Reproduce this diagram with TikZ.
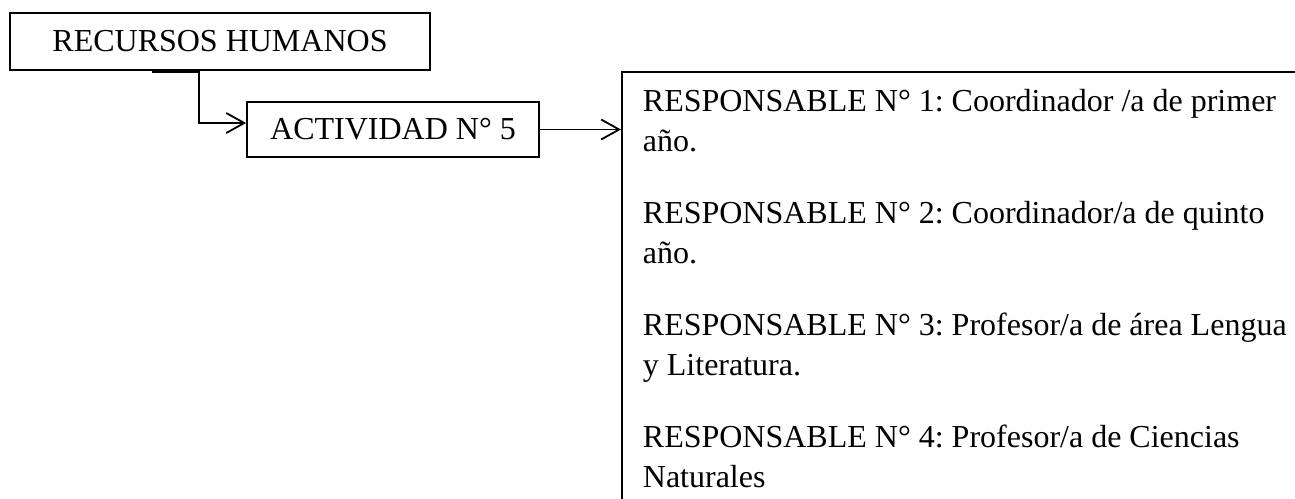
\documentclass[tikz,border=0pt]{standalone}
\usepackage{fontspec}
\setmainfont{Liberation Serif}
\usetikzlibrary{arrows.meta}
\tikzstyle{block} = [rectangle, draw, line width=0.9pt, inner sep=0pt,
    font=\fontsize{16}{20}\selectfont]
\tikzstyle{list} = [rectangle, draw, line width=0.9pt, text width=340pt,
    align=flush left, inner xsep=10.5pt, inner ysep=8.5pt,
    font=\fontsize{16}{20}\selectfont\frenchspacing]
\tikzstyle{line} = [draw, line width=0.9pt,
    -{Straight Barb[length=9pt,width=10pt]}]

\begin{document}
\begin{tikzpicture}[x=0.5pt, y=-0.5pt]
        \useasboundingbox (0,0) rectangle (1295,498);
        \clip (0,0) rectangle (1295,498);
        % Place nodes
        \node [block, minimum width=210pt, minimum height=28.5pt] (recu) at (220,41.5) {RECURSOS HUMANOS};
        \node [block, minimum width=146pt, minimum height=27.5pt] (acti) at (393,129.5) {ACTIVIDAD N° 5};

        % responsables (box runs past the page edge)
        \node [list, anchor=north west] (resp) at (621,71) {RESPONSABLE N° 1: Coordinador /a de primer\\
            año.\\[16pt]
            RESPONSABLE N° 2: Coordinador/a de quinto\\
            año.\\[16pt]
            RESPONSABLE N° 3: Profesor/a de área Lengua\\
            y Literatura.\\[16pt]
            RESPONSABLE N° 4: Profesor/a de Ciencias\\
            Naturales\rule[-20pt]{0pt}{0pt}};

        % Draw edges
        \path [line] ([xshift=-34pt,yshift=-0.6pt]recu.south) -- ++(23.5pt,0) |- ([yshift=3.25pt]acti.west);
        \path [line] (acti.east) -- (acti.east -| resp.west);
\end{tikzpicture}
\end{document}
